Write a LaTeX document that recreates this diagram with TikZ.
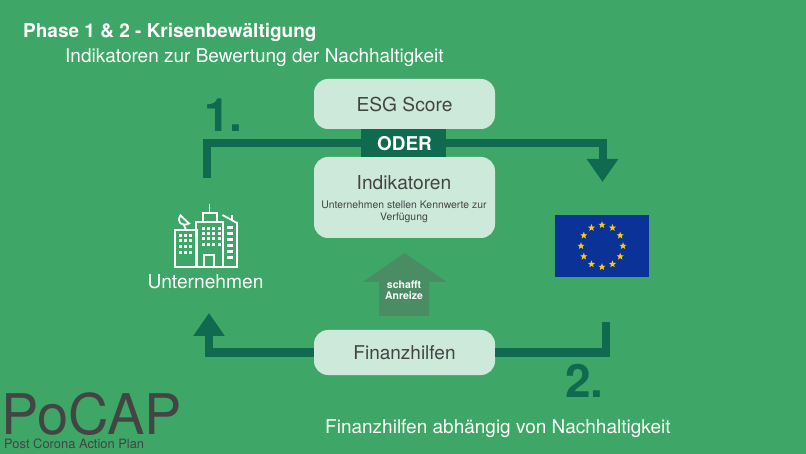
\documentclass[tikz,border=0pt]{standalone}
\usepackage{fontspec}
\setmainfont{TeX Gyre Heros}
\usetikzlibrary{arrows.meta, shapes.geometric}
\definecolor{bggreen}{HTML}{3EA767}
\definecolor{boxgreen}{HTML}{CDE9DA}
\definecolor{darkgreen}{HTML}{0F6A50}
\definecolor{housegreen}{HTML}{4A8C63}
\definecolor{textgray}{HTML}{444444}
\definecolor{eublue}{HTML}{0B3296}
\definecolor{eugold}{HTML}{FFCC00}
\tikzset{
  infobox/.style={fill=boxgreen, rounded corners=14pt, minimum width=181pt, inner sep=0pt, text=textgray},
  flow/.style={draw=darkgreen, line width=8pt},
  flowtip/.style={-{Triangle[width=30pt, length=23pt]}},
  eustar/.style={star, star points=5, star point ratio=2.4, fill=eugold, inner sep=0pt, minimum size=7.5pt},
  icon/.style={draw=white, line width=1.8pt},
  winpane/.style={fill=white},
  lbl/.style={anchor=base west, inner sep=0pt}
}
\begin{document}
\begin{tikzpicture}[x=1pt, y=-1pt]
\useasboundingbox (0,0) rectangle (806,454);
\fill[bggreen] (0,0) rectangle (806,454);
% headings
\node[lbl, text=white, font=\bfseries\fontsize{19}{21}\selectfont] (phase) at (23,38) {Phase 1 \& 2 - Krisenbewältigung};
\node[lbl, text=white, font=\fontsize{19}{21}\selectfont] (sub) at (65,63) {Indikatoren zur Bewertung der Nachhaltigkeit};
\node[lbl, text=darkgreen, font=\bfseries\fontsize{46}{48}\selectfont] (one) at (204,132) {1.};
\node[lbl, text=darkgreen, font=\bfseries\fontsize{46}{48}\selectfont] (two) at (565,397) {2.};
\node[lbl, text=white, font=\fontsize{19}{21}\selectfont] (cond) at (325,433) {Finanzhilfen abhängig von Nachhaltigkeit};
\node[lbl, text=textgray, font=\fontsize{56}{60}\selectfont] (pocap) at (1,434) {PoCAP};
\node[lbl, text=textgray, font=\fontsize{12.9}{14}\selectfont] (plan) at (4,448) {Post Corona Action Plan};
% connector ends
\coordinate (topstart) at (207,178);
\coordinate (topmid) at (404,143.5);
\coordinate (toptip) at (602.5,182);
\coordinate (botstart) at (606,322);
\coordinate (bottip) at (209,313);
% boxes
\node[infobox, minimum height=45pt] (fin) at (404.5,352.5) {\fontsize{19}{21}\selectfont Finanzhilfen};
\draw[flow] (botstart) |- (fin.east);
\draw[flow, flowtip] (fin.west) -| (bottip);
\draw[flow, flowtip] (topstart) |- (topmid) -| (toptip);
\node[infobox, minimum height=50pt, text depth=0pt, yshift=0pt] (esg) at (404.5,104) {};
\node[text=textgray, font=\fontsize{19.2}{21}\selectfont, inner sep=0pt] (esgtitle) at (404.5,104.5) {ESG Score};
\node[infobox, minimum height=81pt] (ind) at (404.5,197.5) {};
\node[text=textgray, font=\fontsize{19.2}{21}\selectfont, inner sep=0pt] (indtitle) at (404,183) {Indikatoren};
\node[text=textgray, font=\fontsize{10.4}{11.5}\selectfont, align=center, inner sep=0pt] (indtext) at (404,212) {Unternehmen stellen Kennwerte zur\\Verfügung};
\node[fill=darkgreen, minimum width=85pt, minimum height=28pt, inner sep=0pt] (oder) at (403.5,143) {};
\node[text=white, font=\bfseries\fontsize{19}{21}\selectfont, inner sep=0pt] (odertext) at (404.5,143.5) {ODER};
% incentive arrow
\fill[housegreen] (404.5,253) -- (447,282) -- (429,282) -- (429,316) -- (379,316) -- (379,282) -- (363,282) -- cycle;
\node[text=white, font=\bfseries\fontsize{10.5}{11}\selectfont, align=center, inner sep=0pt] (anreiz) at (404,290.5) {schafft\\Anreize};
% company icon
\draw[icon] (175,230) rectangle (197,267);
\draw[icon] (196,222) rectangle (223,267);
\draw[icon] (203,213) rectangle (217,222);
\draw[icon] (209.5,204) -- (209.5,213);
\draw[icon] (223,267) -- (237,267) -- (237,223) -- (222.5,215);
\draw[icon] (232,215) -- (232,220);
\draw[icon] (204,267) -- (204,255) -- (214,255) -- (214,267);
\draw[icon] (180.5,215.5) .. controls (176,222) and (182,227) .. (189,223.5) -- cycle;
\draw[icon] (184,225) -- (186,230);
\foreach \c in {0,...,3} \foreach \r in {0,...,3}
  \fill[winpane] ({180+\c*5.3-1.2},{235+\r*5.7-1.2}) rectangle +(3,3);
\foreach \c in {0,...,3} \foreach \r in {0,...,3}
  \fill[winpane] ({203+\c*5.3-1.2},{228+\r*5.3-1.2}) rectangle +(3,3);
\foreach \r in {0,...,5}
  \fill[winpane] (226.5,{226+\r*6}) rectangle +(6,2.6);
\node[text=white, font=\fontsize{19.2}{21}\selectfont, inner sep=0pt] (firma) at (205.5,282) {Unternehmen};
% flag
\node[fill=eublue, minimum width=94pt, minimum height=62pt, inner sep=0pt] (flag) at (602,246) {};
\foreach \i in {1,...,12}
  \node[eustar] (star\i) at ({602+21*cos(\i*30)},{246+21*sin(\i*30)}) {};
\end{tikzpicture}
\end{document}
